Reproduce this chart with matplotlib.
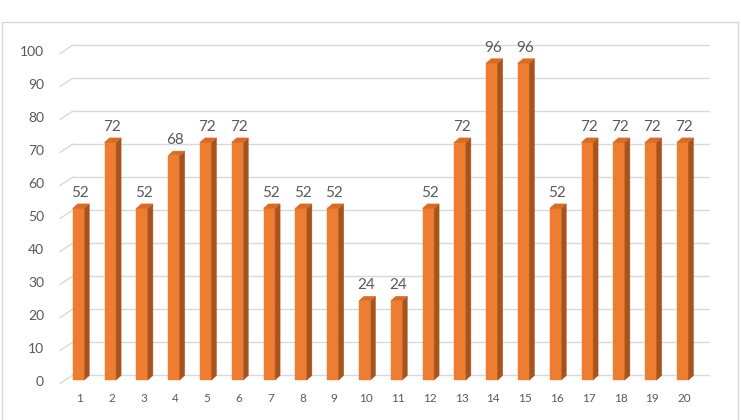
import matplotlib.pyplot as plt
from matplotlib.patches import Polygon, Rectangle
import numpy as np

plt.rcParams['font.family'] = ['Lato', 'DejaVu Sans']

categories = [str(i) for i in range(1, 21)]
values = [52, 72, 52, 68, 72, 72, 52, 52, 52, 24, 24, 52, 72, 96, 96, 52, 72, 72, 72, 72]
yticks = list(range(0, 101, 10))

W, H = 741, 420
fig = plt.figure(figsize=(W / 100, H / 100), dpi=100)
# back wall of the 3D plot area (pixels)
x0, x1, ytop, ybot = 73, 709, 45, 375
ax = fig.add_axes([x0 / W, (H - ybot) / H, (x1 - x0) / W, (ybot - ytop) / H])
ax.set_xlim(0.5, 20.5)
ax.set_ylim(0, 100)
ax.axis('off')

px = 20 / (x1 - x0)      # data units per pixel, x
py = 100 / (ybot - ytop)  # data units per pixel, y

grid_col = '#D9D9D9'
text_col = '#595959'

# gridlines on back wall + short diagonal on the side wall
for t in yticks:
    ax.plot([0.5, 20.5], [t, t], color=grid_col, lw=1.0, zorder=1, clip_on=False)
    ax.plot([0.5 - 13 * px, 0.5], [t - 8.5 * py, t], color=grid_col, lw=1.0,
            zorder=1, clip_on=False)
    ax.text(0.5 - 29 * px, t - 7 * py, str(t), ha='right', va='center',
            fontsize=10, color=text_col)

xs = np.arange(1, 21)
front_shift = -10.4 * px
bw = 11.6 * px
base = -5 * py
ddx, ddy = 5 * px, 4.5 * py

front = '#ED7D31'
side = '#A8531C'
top = '#D86B25'

ax.bar(xs + front_shift, values, width=bw, bottom=base, color=front,
       edgecolor=front, lw=0.3, zorder=3, clip_on=False)
for x, v in zip(xs, values):
    xl = x + front_shift - bw / 2
    xr = x + front_shift + bw / 2
    yt = v + base
    ax.add_patch(Polygon([(xr, base), (xr, yt), (xr + ddx, yt + ddy), (xr + ddx, base + ddy)],
                         closed=True, facecolor=side, edgecolor=side, lw=0.3,
                         zorder=3, clip_on=False))
    ax.add_patch(Polygon([(xl, yt), (xr, yt), (xr + ddx, yt + ddy), (xl + ddx, yt + ddy)],
                         closed=True, facecolor=top, edgecolor=top, lw=0.3,
                         zorder=3, clip_on=False))
    ax.text(x - 9 * px, yt + ddy + 4 * py, str(v), ha='center', va='bottom',
            fontsize=11, color=text_col, zorder=4)

for x, c in zip(xs, categories):
    ax.text(x - 9 * px, -23 * py, c, ha='center', va='center',
            fontsize=8.5, color=text_col)

# outer chart border
fig.patches.append(Rectangle((1.5 / W, -0.01), (737.5 - 1.5) / W, (H - 22) / H + 0.01,
                             transform=fig.transFigure, fill=False,
                             edgecolor=grid_col, lw=1.0))

fig.savefig('out.png', dpi=100)
